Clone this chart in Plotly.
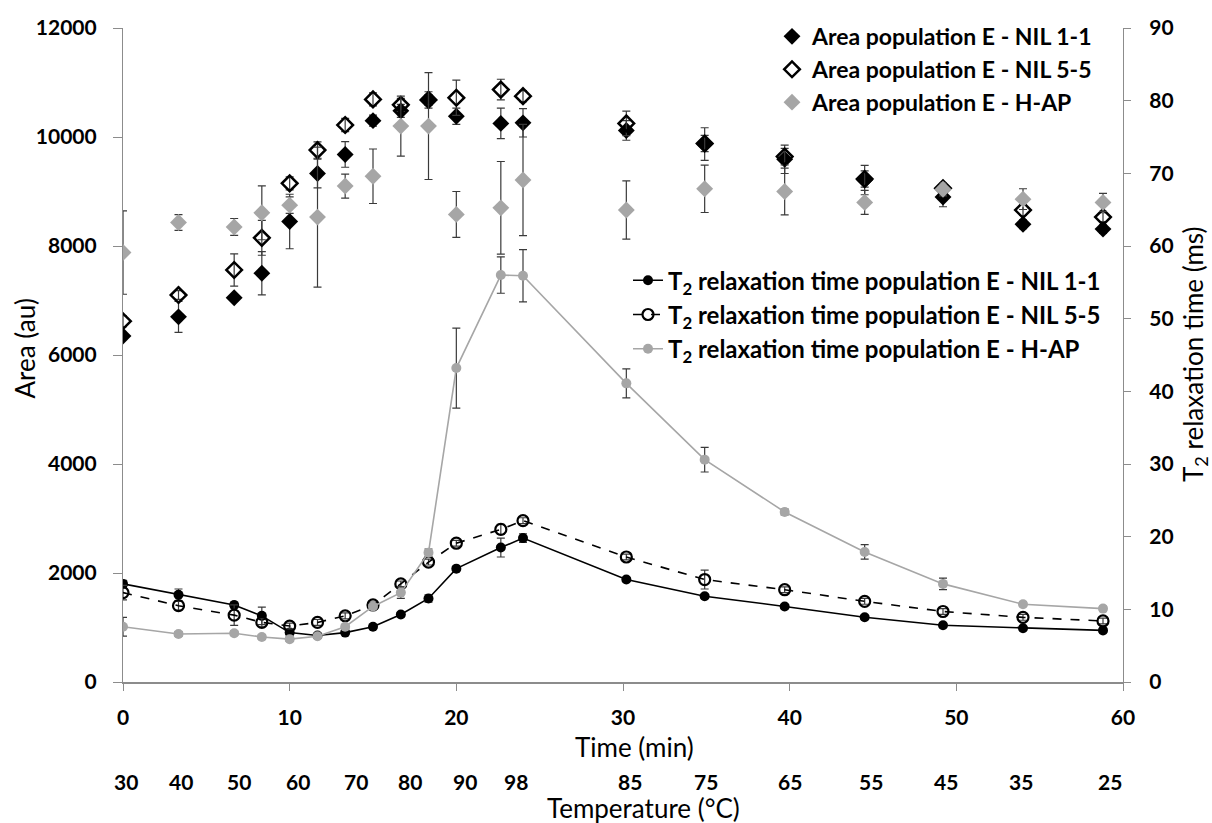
import plotly.graph_objects as go

# ---- data ----
time_min = [0, 3.33, 6.67, 8.33, 10, 11.67, 13.33, 15, 16.67, 18.33, 20, 22.67, 24,
            30.2, 34.9, 39.7, 44.5, 49.2, 54, 58.8]

area_nil11 = [6350, 6700, 7050, 7500, 8450, 9330, 9680, 10300, 10480, 10680, 10380, 10250, 10260,
              10120, 9870, 9590, 9210, 8900, 8400, 8310]
area_nil11_err = [60, 285, 60, 395, 500, 265, 235, 100, 120, 150, 150, 280, 260,
                  180, 300, 260, 270, 180, 80, 80]
area_nil55 = [6620, 7100, 7560, 8150, 9150, 9760, 10220, 10690, 10590, 10680, 10720, 10870, 10750,
              10250, 9880, 9640, 9230, 9060, 8660, 8530]
area_nil55_err = [100, 80, 295, 320, 120, 150, 120, 120, 120, 100, 325, 190, 100,
                  225, 150, 150, 150, 100, 100, 80]
area_hap = [7880, 8430, 8350, 8610, 8750, 8530, 9100, 9280, 10200, 10200, 8580, 8700, 9210,
            8660, 9050, 9000, 8800, 9040, 8860, 8800]
area_hap_err = [765, 145, 155, 495, 150, 1285, 220, 500, 550, 980, 420, 850, 1020,
                535, 435, 430, 220, 120, 190, 165]

t2_nil11 = [13.5, 12.0, 10.6, 9.1, 6.8, 6.4, 6.8, 7.6, 9.3, 11.5, 15.6, 18.5, 19.8,
            14.1, 11.8, 10.4, 8.9, 7.8, 7.4, 7.1]
t2_nil11_err = [0.5, 0.8, 0.4, 1.2, 0.3, 0.3, 0.3, 0.3, 0.3, 0.5, 0.3, 1.3, 0.6,
                0.3, 0.3, 0.3, 0.3, 0.3, 0.3, 0.3]
t2_nil55 = [12.3, 10.5, 9.2, 8.2, 7.7, 8.2, 9.1, 10.6, 13.5, 16.5, 19.1, 21.0, 22.2,
            17.2, 14.1, 12.7, 11.1, 9.7, 8.9, 8.4]
t2_nil55_err = [1.0, 0.6, 1.4, 0.6, 0.4, 0.4, 0.4, 0.4, 0.4, 0.4, 0.4, 0.7, 0.4,
                0.4, 1.3, 0.4, 0.4, 0.4, 0.4, 0.4]
t2_hap = [7.6, 6.6, 6.7, 6.2, 5.9, 6.3, 7.6, 10.4, 12.3, 17.8, 43.2, 56.0, 55.9,
          41.1, 30.6, 23.4, 17.9, 13.5, 10.7, 10.1]
t2_hap_err = [1.3, 0.3, 0.3, 0.3, 0.3, 0.3, 0.3, 0.4, 0.8, 0.5, 5.5, 2.5, 3.6,
              2.0, 1.7, 0.4, 1.0, 0.8, 0.3, 0.3]

temp_labels = ["30", "40", "50", "60", "70", "80", "90", "98", "85", "75", "65", "55", "45", "35", "25"]
temp_label_pos = [0.2, 3.45, 6.95, 10.5, 14.0, 17.2, 20.5, 23.6, 30.4, 35.0, 40.0, 44.9, 49.4, 53.9, 59.2]

# ---- styles ----
FONT = "Lato"
GRAY = "#a6a6a6"
AXIS = "#8c8c8c"
ERR = "#3a3a3a"


def err(vals):
    return dict(type="data", array=vals, visible=True, color=ERR, thickness=1.2, width=4)


fig = go.Figure()

fig.add_trace(go.Scatter(x=time_min, y=area_nil11, mode="markers", name="Area population E - NIL 1-1",
                         marker=dict(symbol="diamond", size=13, color="black"),
                         error_y=err(area_nil11_err), legend="legend", yaxis="y"))
fig.add_trace(go.Scatter(x=time_min, y=area_nil55, mode="markers", name="Area population E - NIL 5-5",
                         marker=dict(symbol="diamond-open", size=12, color="black",
                                     line=dict(width=2.5, color="black")),
                         error_y=err(area_nil55_err), legend="legend", yaxis="y"))
fig.add_trace(go.Scatter(x=time_min, y=area_hap, mode="markers", name="Area population E - H-AP",
                         marker=dict(symbol="diamond", size=13, color=GRAY),
                         error_y=err(area_hap_err), legend="legend", yaxis="y"))

fig.add_trace(go.Scatter(x=time_min, y=t2_nil11, mode="lines+markers",
                         name="T<sub>2</sub> relaxation time population E - NIL 1-1",
                         line=dict(color="black", width=1.6),
                         marker=dict(symbol="circle", size=10, color="black"),
                         error_y=err(t2_nil11_err), legend="legend2", yaxis="y2"))
fig.add_trace(go.Scatter(x=time_min, y=t2_nil55, mode="lines+markers",
                         name="T<sub>2</sub> relaxation time population E - NIL 5-5",
                         line=dict(color="black", width=1.6, dash="dash"),
                         marker=dict(symbol="circle-open", size=11, color="black",
                                     line=dict(width=2.2, color="black")),
                         error_y=err(t2_nil55_err), legend="legend2", yaxis="y2"))
fig.add_trace(go.Scatter(x=time_min, y=t2_hap, mode="lines+markers",
                         name="T<sub>2</sub> relaxation time population E - H-AP",
                         line=dict(color=GRAY, width=1.6),
                         marker=dict(symbol="circle", size=10, color=GRAY),
                         error_y=err(t2_hap_err), legend="legend2", yaxis="y2"))

tickfont = dict(family=FONT, size=21, color="black", weight="bold")
legfont1 = dict(family=FONT, size=23, color="black", weight="bold")
legfont2 = dict(family=FONT, size=24, color="black", weight="bold")
titlefont = dict(family=FONT, size=26, color="black")

annotations = []
for lab, pos in zip(temp_labels, temp_label_pos):
    annotations.append(dict(x=pos, y=-0.152, xref="x", yref="paper", text=lab, showarrow=False,
                            font=tickfont, xanchor="center", yanchor="middle"))
annotations.append(dict(x=0.511, y=-0.100, xref="paper", yref="paper", text="Time (min)",
                        showarrow=False, font=titlefont, xanchor="center", yanchor="middle"))
annotations.append(dict(x=0.52, y=-0.192, xref="paper", yref="paper", text="Temperature (°C)",
                        showarrow=False, font=titlefont, xanchor="center", yanchor="middle"))
annotations.append(dict(x=-0.098, y=0.51, xref="paper", yref="paper", text="Area (au)",
                        showarrow=False, font=titlefont, textangle=-90,
                        xanchor="center", yanchor="middle"))
annotations.append(dict(x=1.071, y=0.50, xref="paper", yref="paper",
                        text="T<sub>2</sub> relaxation time (ms)",
                        showarrow=False, font=titlefont, textangle=-90,
                        xanchor="center", yanchor="middle"))

fig.update_layout(
    width=1212, height=823,
    margin=dict(l=123, r=89, t=28, b=141),
    paper_bgcolor="white", plot_bgcolor="white",
    font=dict(family=FONT, color="black"),
    xaxis=dict(range=[0, 60], dtick=10, tick0=0, showgrid=False, zeroline=False,
               showline=True, linecolor=AXIS, linewidth=2, ticks="outside", ticklen=7,
               tickcolor=AXIS, tickfont=tickfont, ticklabelstandoff=9),
    yaxis=dict(range=[0, 12000], dtick=2000, tick0=0, tickformat="d", showgrid=False,
               zeroline=False, showline=True, linecolor=AXIS, linewidth=1.2, ticks="outside",
               ticklen=9, tickcolor=AXIS, tickfont=tickfont, ticklabelstandoff=12),
    yaxis2=dict(range=[0, 90], dtick=10, tick0=0, overlaying="y", side="right",
                showgrid=False, zeroline=False, showline=True, linecolor=AXIS, linewidth=1.2,
                ticks="outside", ticklen=7, tickcolor=AXIS, tickfont=tickfont,
                ticklabelstandoff=14),
    legend=dict(x=0.649, y=1.02, xanchor="left", yanchor="top", font=legfont1,
                bgcolor="rgba(0,0,0,0)", tracegroupgap=0),
    legend2=dict(x=0.505, y=0.648, xanchor="left", yanchor="top", font=legfont2,
                 bgcolor="rgba(0,0,0,0)", tracegroupgap=0),
    annotations=annotations,
    showlegend=True,
)

fig.write_html("out.html")
